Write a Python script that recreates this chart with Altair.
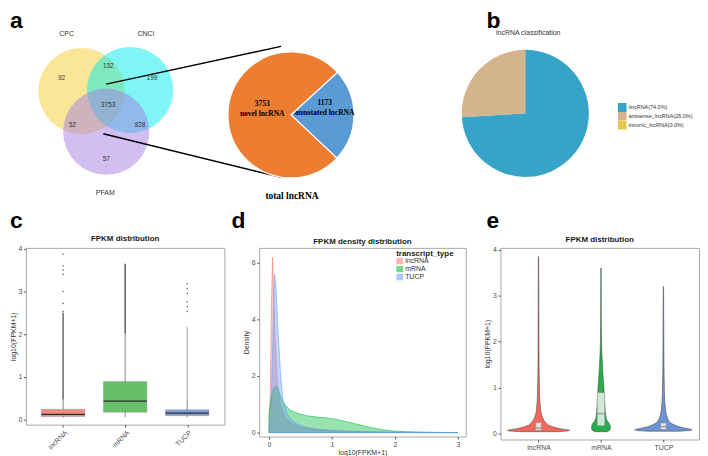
import math
import altair as alt
import pandas as pd

FONT = "Liberation Sans"
SERIF = "Liberation Serif"

# ---------------- layout (page px) ----------------
COL_X = [25, 260, 503]
COL_W = [200, 208, 200]
TOP_H = 230
TOP_Y0, TOP_Y1 = 8, 238

# ---------------- panel a: Venn ----------------
venn_sets = ["CPC", "CNCI", "PFAM"]
venn_cx = [81, 130, 106]
venn_cy = [86, 85, 127]
venn_colors = ["#F5CD2D", "#00EBEB", "#A57DE1"]
venn_label_x = [66, 146, 105]
venn_label_y = [31, 31, 191]
region_counts = ["92", "132", "199", "3753", "52", "828", "57"]
region_x = [61, 108, 152, 108, 72, 140, 106]
region_y = [75, 63, 75, 102, 122, 122, 156]
link_x1 = [106, 103]
link_y1 = [79, 129]
link_x2 = [282, 282]
link_y2 = [41, 173]

# ---------------- panel a: total lncRNA pie ----------------
pie_a_names = ["annotated lncRNA", "novel lncRNA"]
pie_a_values = [1173, 3753]
pie_a_colors = ["#5B9BD5", "#ED7D31"]
pie_a_center = (292, 110)
pie_a_num_x = [326, 263]
pie_a_num_y = [100, 101]
pie_a_name_y = [110, 111]

# ---------------- panel b: classification pie ----------------
pie_b_classes = ["lincRNA(74.0%)", "antisense_lncRNA(26.0%)", "intronic_lncRNA(0.0%)"]
pie_b_values = [74.0, 26.0, 0.0]
pie_b_colors = ["#37A3C9", "#D4B48C", "#E3C84A"]
pie_b_center = (528, 108.5)

# ---------------- panel letters ----------------
letters = ["a", "b", "c", "d", "e"]
letter_x = [9, 489, 9, 232, 489]
letter_y = [23, 23, 224, 224, 224]

# ---------------- panel c: boxplot ----------------
types = ["lncRNA", "mRNA", "TUCP"]
type_pos = [1, 2, 3]
box_low = [0.04, 0.05, 0.05]
box_q1 = [0.07, 0.17, 0.09]
box_med = [0.12, 0.43, 0.15]
box_q3 = [0.24, 0.89, 0.23]
box_high = [0.47, 2.02, 0.43]
dense_hi = [2.5, 3.65, 2.17]
lnc_outliers = [2.53, 2.72, 3.0, 3.4, 3.5, 3.6, 3.87]
tucp_outliers = [2.53, 2.64, 2.76, 2.95, 3.07, 3.18]
box_colors = ["#EE847A", "#5FBD62", "#7B9CD4"]

# ---------------- panel d: density ----------------
lnc_x = [0, 0.02, 0.04, 0.057, 0.075, 0.1, 0.13, 0.17, 0.22, 0.3, 0.4, 0.5, 0.6, 0.8, 1.0, 1.2, 1.5, 2.0, 2.5, 3.0]
lnc_d = [0, 1.2, 4.5, 6.2, 5.0, 3.2, 1.9, 1.1, 0.7, 0.42, 0.27, 0.2, 0.15, 0.09, 0.06, 0.045, 0.03, 0.012, 0.004, 0.0]
mrna_x = [0, 0.03, 0.07, 0.11, 0.15, 0.2, 0.25, 0.33, 0.45, 0.59, 0.75, 0.9, 1.04, 1.2, 1.35, 1.5, 1.65, 1.8, 2.0, 2.2, 2.5, 2.8, 3.0]
mrna_d = [0.65, 1.2, 1.55, 1.65, 1.5, 1.2, 1.0, 0.8, 0.68, 0.6, 0.55, 0.52, 0.48, 0.4, 0.32, 0.24, 0.16, 0.1, 0.05, 0.03, 0.012, 0.004, 0.0]
tucp_x = [0, 0.03, 0.06, 0.088, 0.11, 0.14, 0.18, 0.22, 0.28, 0.35, 0.45, 0.6, 0.8, 1.0, 1.3, 1.6, 2.0, 2.5, 3.0]
tucp_d = [0, 0.6, 3.0, 5.6, 5.2, 3.8, 2.2, 1.2, 0.7, 0.45, 0.3, 0.18, 0.12, 0.08, 0.05, 0.03, 0.012, 0.004, 0.0]
dens_colors = ["#F8766D", "#00BA38", "#619CFF"]

# ---------------- panel e: violins ----------------
vio_lnc_y = [0.04, 0.055, 0.07, 0.09, 0.11, 0.14, 0.18, 0.24, 0.3, 0.4, 0.5, 0.7, 0.9, 1.2, 1.5, 2.0, 3.0, 3.85]
vio_lnc_w = [0.3, 0.47, 0.5, 0.42, 0.33, 0.24, 0.16, 0.11, 0.08, 0.05, 0.035, 0.022, 0.016, 0.012, 0.009, 0.007, 0.005, 0.003]
vio_mrna_y = [0.04, 0.06, 0.1, 0.15, 0.2, 0.25, 0.3, 0.4, 0.5, 0.6, 0.8, 1.0, 1.2, 1.4, 1.6, 1.8, 2.0, 2.5, 3.0, 3.6]
vio_mrna_w = [0.09, 0.13, 0.15, 0.15, 0.14, 0.115, 0.09, 0.075, 0.068, 0.062, 0.055, 0.047, 0.036, 0.027, 0.02, 0.013, 0.009, 0.005, 0.004, 0.003]
vio_tucp_y = [0.05, 0.065, 0.08, 0.1, 0.12, 0.15, 0.19, 0.24, 0.3, 0.4, 0.5, 0.7, 0.9, 1.2, 1.5, 2.0, 2.5, 3.2]
vio_tucp_w = [0.25, 0.42, 0.46, 0.42, 0.34, 0.25, 0.17, 0.105, 0.075, 0.05, 0.035, 0.022, 0.016, 0.012, 0.009, 0.007, 0.005, 0.003]
vio_colors = ["#F2675C", "#27AE4A", "#6E93D2"]
inner_half = [0.045, 0.06, 0.045]

# ======================================================================
label_expr = " : ".join(f"datum.value == {p} ? '{t}'" for p, t in zip(type_pos, types)) + " : ''"


def xs(i):
    return alt.Scale(domain=[COL_X[i], COL_X[i] + COL_W[i]], nice=False, zero=False)


YS = alt.Scale(domain=[TOP_Y1, TOP_Y0], nice=False, zero=False)


def text_layer(df, i, size, weight="normal", font=FONT, color="#333333", align="center", baseline="alphabetic"):
    return alt.Chart(df).mark_text(
        fontSize=size, fontWeight=weight, font=font, color=color, align=align, baseline=baseline
    ).encode(
        x=alt.X("x:Q", scale=xs(i), axis=None),
        y=alt.Y("y:Q", scale=YS, axis=None),
        text="t:N",
    )


NOVIEW = alt.ViewBackground(stroke="transparent")

# ---- cell 1: Venn
venn_df = pd.DataFrame({"set": venn_sets, "x": venn_cx, "y": venn_cy})
circles = alt.Chart(venn_df).mark_circle(size=math.pi * 49 ** 2, opacity=0.5).encode(
    x=alt.X("x:Q", scale=xs(0), axis=None),
    y=alt.Y("y:Q", scale=YS, axis=None),
    color=alt.Color("set:N", scale=alt.Scale(domain=venn_sets, range=venn_colors), legend=None),
)
venn_lab = text_layer(pd.DataFrame({"x": venn_label_x, "y": venn_label_y, "t": venn_sets}), 0, 7)
venn_num = text_layer(pd.DataFrame({"x": region_x, "y": region_y, "t": region_counts}), 0, 6.5)
links = alt.Chart(pd.DataFrame({"x": link_x1, "y": link_y1, "x2": link_x2, "y2": link_y2})).mark_rule(
    color="black", strokeWidth=1.4
).encode(
    x=alt.X("x:Q", scale=xs(0), axis=None), y=alt.Y("y:Q", scale=YS, axis=None), x2="x2:Q", y2="y2:Q"
)
let1 = text_layer(pd.DataFrame({"x": [letter_x[0], letter_x[2]], "y": [letter_y[0], letter_y[2]],
                                "t": [letters[0], letters[2]]}), 0, 23, "bold", color="black", align="left")
cell1 = alt.layer(circles, links, venn_lab, venn_num, let1).properties(
    width=COL_W[0], height=TOP_H, view=NOVIEW).resolve_scale(color="independent")

# ---- cell 2: pie a
pa_df = pd.DataFrame({"name": pie_a_names, "v": pie_a_values, "ord": [0, 1],
                      "x": [pie_a_center[0]] * 2, "y": [pie_a_center[1]] * 2})
start = 0.83
pie_a = alt.Chart(pa_df).mark_arc(radius=63.5, stroke="white", strokeWidth=1.2).encode(
    x=alt.X("x:Q", scale=xs(1), axis=None),
    y=alt.Y("y:Q", scale=YS, axis=None),
    theta=alt.Theta("v:Q", stack=True, scale=alt.Scale(range=[start, start + 2 * math.pi])),
    order=alt.Order("ord:Q"),
    color=alt.Color("name:N", scale=alt.Scale(domain=pie_a_names, range=pie_a_colors), legend=None),
)
pa_num = text_layer(pd.DataFrame({"x": pie_a_num_x, "y": pie_a_num_y, "t": [str(v) for v in pie_a_values]}),
                    1, 7.5, "bold", SERIF, "black")
pa_name = text_layer(pd.DataFrame({"x": pie_a_num_x, "y": pie_a_name_y,
                                   "t": ["annotated lncRNA", "novel lncRNA"]}), 1, 7.5, "bold", SERIF, "black")
pa_total = text_layer(pd.DataFrame({"x": [293], "y": [195], "t": ["total lncRNA"]}), 1, 9.5, "bold", SERIF, "black")
let2 = text_layer(pd.DataFrame({"x": [letter_x[3]], "y": [letter_y[3]], "t": [letters[3]]}),
                  1, 23, "bold", color="black", align="left")
cell2 = alt.layer(pie_a, pa_num, pa_name, pa_total, let2).properties(
    width=COL_W[1], height=TOP_H, view=NOVIEW)

# ---- cell 3: pie b
pb_df = pd.DataFrame({"cls": pie_b_classes, "v": pie_b_values, "ord": [0, 1, 2],
                      "x": [pie_b_center[0]] * 3, "y": [pie_b_center[1]] * 3})
pie_b = alt.Chart(pb_df).mark_arc(radius=64).encode(
    x=alt.X("x:Q", scale=xs(2), axis=None),
    y=alt.Y("y:Q", scale=YS, axis=None),
    theta=alt.Theta("v:Q", stack=True),
    order=alt.Order("ord:Q"),
    color=alt.Color("cls:N", scale=alt.Scale(domain=pie_b_classes, range=pie_b_colors),
                    legend=alt.Legend(orient="none", legendX=118, legendY=90, title=None,
                                      symbolType="square", symbolSize=81, symbolStrokeWidth=0,
                                      labelFontSize=5.5, labelFont=FONT, labelColor="#333333",
                                      rowPadding=0, padding=0, labelOffset=2, clipHeight=9)),
)
pb_title = text_layer(pd.DataFrame({"x": [531], "y": [30], "t": ["lncRNA classification"]}), 2, 7)
let3 = text_layer(pd.DataFrame({"x": [letter_x[1], letter_x[4]], "y": [letter_y[1], letter_y[4]],
                                "t": [letters[1], letters[4]]}), 2, 23, "bold", color="black", align="left")
cell3 = alt.layer(pie_b, pb_title, let3).properties(width=COL_W[2], height=TOP_H, view=NOVIEW)

# ---- panel c: boxplot
box_df = pd.DataFrame({"type": types, "pos": type_pos, "low": box_low, "q1": box_q1, "med": box_med,
                       "q3": box_q3, "high": box_high, "dhi": dense_hi})
box_df["xl"] = box_df["pos"] - 0.35
box_df["xr"] = box_df["pos"] + 0.35
box_df["dop"] = [0.85, 0.9, 0.35]
out_df = pd.DataFrame({"pos": [1] * len(lnc_outliers) + [3] * len(tucp_outliers),
                       "v": lnc_outliers + tucp_outliers})
cx = alt.Scale(domain=[0.4, 3.6], nice=False, zero=False)
cy = alt.Scale(domain=[-0.12, 4.02], nice=False, zero=False)
cxa = alt.Axis(values=type_pos, labelExpr=label_expr, labelAngle=-45, title=None)
cya = alt.Axis(values=[0, 1, 2, 3, 4], title="log10(FPKM+1)", format="d")
cb = alt.Chart(box_df)
whisk = cb.mark_rule(color="#666666", strokeWidth=0.8).encode(
    x=alt.X("pos:Q", scale=cx, axis=cxa), y=alt.Y("low:Q", scale=cy, axis=cya), y2="high:Q")
dense = cb.mark_rule(color="#333333", strokeWidth=1.3).encode(
    x=alt.X("pos:Q", scale=cx, axis=cxa), y=alt.Y("high:Q", scale=cy, axis=cya), y2="dhi:Q",
    opacity=alt.Opacity("dop:Q", scale=None))
pts = alt.Chart(out_df).mark_circle(size=2.5, color="#333333", opacity=0.8).encode(
    x=alt.X("pos:Q", scale=cx, axis=cxa), y=alt.Y("v:Q", scale=cy, axis=cya))
boxes = cb.mark_rect(stroke="#8a8a8a", strokeWidth=0.4, opacity=0.95).encode(
    x=alt.X("xl:Q", scale=cx, axis=cxa), x2="xr:Q", y=alt.Y("q1:Q", scale=cy, axis=cya), y2="q3:Q",
    color=alt.Color("type:N", scale=alt.Scale(domain=types, range=box_colors), legend=None))
meds = cb.mark_rule(color="#2b2b2b", strokeWidth=1.2).encode(
    x=alt.X("xl:Q", scale=cx, axis=cxa), x2="xr:Q", y=alt.Y("med:Q", scale=cy, axis=cya))
panel_c = alt.layer(whisk, dense, pts, boxes, meds).properties(
    width=COL_W[0], height=178, title=alt.TitleParams("FPKM distribution"))

# ---- panel d: density
dens_rows = []
for t, xx, dd in [("lncRNA", lnc_x, lnc_d), ("mRNA", mrna_x, mrna_d), ("TUCP", tucp_x, tucp_d)]:
    for a, b in zip(xx, dd):
        dens_rows.append({"type": t, "x": a, "d": b})
dens_df = pd.DataFrame(dens_rows)
dscale = alt.Scale(domain=types, range=dens_colors)
panel_d = alt.Chart(dens_df).mark_area(fillOpacity=0.4, strokeWidth=0.7, strokeOpacity=0.8).encode(
    x=alt.X("x:Q", scale=alt.Scale(domain=[-0.155, 3.125], nice=False, zero=False),
            axis=alt.Axis(values=[0, 1, 2, 3], title="log10(FPKM+1)", format="d", titlePadding=1)),
    y=alt.Y("d:Q", scale=alt.Scale(domain=[-0.14, 6.53], nice=False, zero=False), stack=None,
            axis=alt.Axis(values=[0, 2, 4, 6], title="Density", format="d")),
    color=alt.Color("type:N", scale=dscale,
                    legend=alt.Legend(orient="none", legendX=138, legendY=2, title="transcript_type",
                                      titleFontSize=8, titleFont=FONT, titleFontWeight="bold",
                                      titleColor="#222222", titlePadding=0, labelFontSize=7,
                                      labelFont=FONT, labelColor="#333333", symbolType="square",
                                      symbolSize=40, symbolOpacity=0.55, symbolStrokeWidth=0.6,
                                      rowPadding=0, padding=0, labelOffset=2, clipHeight=6.8)),
    stroke=alt.Stroke("type:N", scale=dscale, legend=None),
    order=alt.Order("ord:Q"),
).transform_calculate(ord="indexof(['lncRNA','mRNA','TUCP'], datum.type)").properties(
    width=COL_W[1], height=190, title=alt.TitleParams("FPKM density distribution"))

# ---- panel e: violins
vrows = []
for t, p, yy, ww in [("lncRNA", 1, vio_lnc_y, vio_lnc_w), ("mRNA", 2, vio_mrna_y, vio_mrna_w),
                     ("TUCP", 3, vio_tucp_y, vio_tucp_w)]:
    for a, b in zip(yy, ww):
        vrows.append({"type": t, "v": a, "xl": p - b, "xr": p + b})
vio_df = pd.DataFrame(vrows)
ex = alt.Scale(domain=[0.39, 3.57], nice=False, zero=False)
ey = alt.Scale(domain=[-0.13, 4.04], nice=False, zero=False)
exa = alt.Axis(values=type_pos, labelExpr=label_expr, labelAngle=0, title=None)
eya = alt.Axis(values=[0, 1, 2, 3, 4], title="log10(FPKM+1)", format="d")
violins = alt.Chart(vio_df).mark_area(orient="horizontal", stroke="#3a3a3a", strokeWidth=0.5).encode(
    y=alt.Y("v:Q", scale=ey, axis=eya),
    x=alt.X("xl:Q", scale=ex, axis=exa, stack=None), x2="xr:Q",
    color=alt.Color("type:N", scale=alt.Scale(domain=types, range=vio_colors), legend=None),
    detail="type:N",
)
ib_df = box_df[["type", "pos", "q1", "med", "q3"]].copy()
ib_df["xl"] = ib_df["pos"] - pd.Series(inner_half)
ib_df["xr"] = ib_df["pos"] + pd.Series(inner_half)
ibox = alt.Chart(ib_df).mark_rect(fill="#EEF3EE", fillOpacity=0.85, stroke="#8a8a8a", strokeWidth=0.5).encode(
    x=alt.X("xl:Q", scale=ex, axis=exa), x2="xr:Q", y=alt.Y("q1:Q", scale=ey, axis=eya), y2="q3:Q")
imed = alt.Chart(ib_df).mark_rule(color="#7a7a7a", strokeWidth=0.9).encode(
    x=alt.X("xl:Q", scale=ex, axis=exa), x2="xr:Q", y=alt.Y("med:Q", scale=ey, axis=eya))
panel_e = alt.layer(violins, ibox, imed).properties(
    width=COL_W[2], height=193, title=alt.TitleParams("FPKM distribution"))

chart = alt.concat(
    cell1, cell2, cell3, panel_c, panel_d, panel_e,
    columns=3, spacing={"row": 6, "column": 35}, bounds="flush",
).resolve_scale(
    x="independent", y="independent", color="independent", theta="independent", stroke="independent",
    opacity="independent",
).properties(padding=0).configure_view(
    stroke="#A8A8A8", strokeWidth=1
).configure_axis(
    labelFont=FONT, titleFont=FONT, labelFontSize=7, titleFontSize=7, labelColor="#4D4D4D",
    titleColor="#333333", titleFontWeight="normal", tickColor="#555555", tickSize=2.5,
    domain=False, grid=False, labelPadding=1.5, titlePadding=2,
).configure_title(
    font=FONT, fontSize=8, fontWeight="bold", color="#1a1a1a", anchor="middle", offset=2
)

chart.save("out.html", embed_options={"renderer": "svg", "actions": False})
